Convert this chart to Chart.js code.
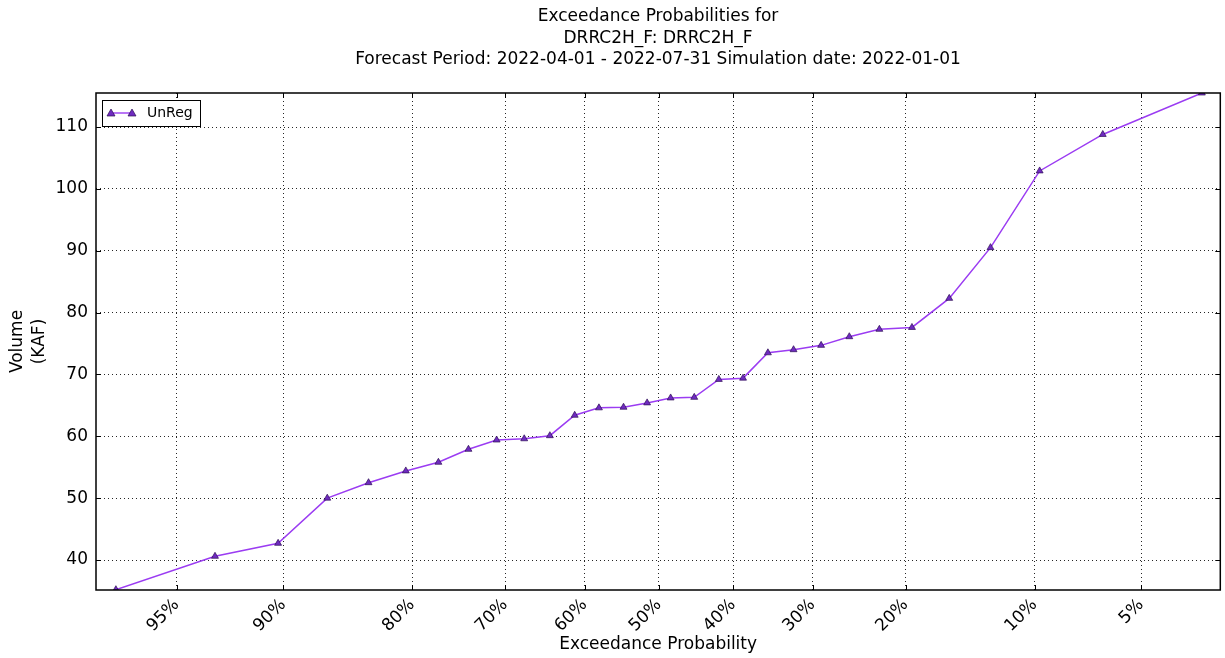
<!DOCTYPE html>
<html>
<head>
<meta charset="utf-8">
<script src="https://cdn.jsdelivr.net/npm/chart.js@4.4.1/dist/chart.umd.min.js"></script>
<style>
  html, body { margin: 0; padding: 0; background: #fff; }
  #wrap { width: 1225px; height: 658px; }
</style>
</head>
<body>
<div id="wrap"><canvas id="exceed" width="1225" height="658"></canvas></div>
<script>
// Exceedance probability (%) of each sorted volume
const exceedPct = [96.8, 93.5, 90.3, 87.1, 83.9, 80.6, 77.4, 74.2, 71.0, 67.7,
                   64.5, 61.3, 58.1, 54.8, 51.6, 48.4, 45.2, 41.9, 38.7, 35.5,
                   32.3, 29.0, 25.8, 22.6, 19.4, 16.1, 12.9, 9.7, 6.5, 3.2];
// UnReg volume (KAF)
const unregKaf = [35.2, 40.6, 42.7, 50.0, 52.5, 54.4, 55.8, 57.9, 59.4, 59.6,
                  60.1, 63.4, 64.6, 64.7, 65.4, 66.2, 66.3, 69.2, 69.4, 73.5,
                  74.0, 74.7, 76.1, 77.3, 77.6, 82.3, 90.5, 102.9, 108.8, 115.5];
const xTickPct = [95, 90, 80, 70, 60, 50, 40, 30, 20, 10, 5];
const yTicks = [40, 50, 60, 70, 80, 90, 100, 110];

const titleLines = [
    "Exceedance Probabilities for",
    "DRRC2H_F: DRRC2H_F",
    "Forecast Period: 2022-04-01 - 2022-07-31 Simulation date: 2022-01-01",
];

const FONT = "'DejaVu Sans', sans-serif";
const LINE_COLOR = "#9b3cf2";
const MARKER_FILL = "#6f2bc0";
const MARKER_EDGE = "#2e0f55";

// inverse normal cdf (Acklam) -> normal probability axis
function probit(p) {
    const a = [-3.969683028665376e+01, 2.209460984245205e+02, -2.759285104469687e+02,
               1.383577518672690e+02, -3.066479806614716e+01, 2.506628277459239e+00];
    const b = [-5.447609879822406e+01, 1.615858368580409e+02, -1.556989798598866e+02,
               6.680131188771972e+01, -1.328068155288572e+01];
    const c = [-7.784894002430293e-03, -3.223964580411365e-01, -2.400758277161838e+00,
               -2.549732539343734e+00, 4.374664141464968e+00, 2.938163982698783e+00];
    const d = [7.784695709041462e-03, 3.224671290700398e-01, 2.445134137142996e+00,
               3.754408661907416e+00];
    const pl = 0.02425;
    let q, r;
    if (p < pl) {
        q = Math.sqrt(-2 * Math.log(p));
        return (((((c[0]*q+c[1])*q+c[2])*q+c[3])*q+c[4])*q+c[5]) /
               ((((d[0]*q+d[1])*q+d[2])*q+d[3])*q+1);
    }
    if (p > 1 - pl) {
        q = Math.sqrt(-2 * Math.log(1 - p));
        return -(((((c[0]*q+c[1])*q+c[2])*q+c[3])*q+c[4])*q+c[5]) /
                ((((d[0]*q+d[1])*q+d[2])*q+d[3])*q+1);
    }
    q = p - 0.5;
    r = q * q;
    return (((((a[0]*r+a[1])*r+a[2])*r+a[3])*r+a[4])*r+a[5])*q /
           (((((b[0]*r+b[1])*r+b[2])*r+b[3])*r+b[4])*r+1);
}
// high exceedance on the left
const toX = (pct) => probit(1 - pct / 100);

const points = exceedPct.map((p, i) => ({ x: toX(p), y: unregKaf[i] }));
const xTickLabel = {};
xTickPct.forEach((p) => { xTickLabel[toX(p).toFixed(6)] = p + "%"; });

// frame, inward ticks, title, axis titles, legend
const decor = {
    id: "decor",
    afterDraw(chart) {
        const { ctx, chartArea: a, scales } = chart;
        ctx.save();
        ctx.strokeStyle = "#000";
        ctx.lineWidth = 1;
        ctx.beginPath();
        scales.x.ticks.forEach((t) => {
            const px = Math.round(scales.x.getPixelForValue(t.value)) + 0.5;
            ctx.moveTo(px, a.bottom); ctx.lineTo(px, a.bottom - 5);
            ctx.moveTo(px, a.top); ctx.lineTo(px, a.top + 5);
        });
        scales.y.ticks.forEach((t) => {
            const py = Math.round(scales.y.getPixelForValue(t.value)) + 0.5;
            ctx.moveTo(a.left, py); ctx.lineTo(a.left + 5, py);
            ctx.moveTo(a.right, py); ctx.lineTo(a.right - 5, py);
        });
        ctx.stroke();
        ctx.lineWidth = 1.5;
        ctx.strokeRect(a.left, a.top, a.right - a.left, a.bottom - a.top);

        ctx.fillStyle = "#000";
        ctx.textAlign = "center";
        ctx.textBaseline = "middle";
        ctx.font = "17px " + FONT;
        titleLines.forEach((s, i) => ctx.fillText(s, 658, 17 + i * 21.5));
        ctx.fillText("Exceedance Probability", (a.left + a.right) / 2, 645);

        ctx.save();
        ctx.translate(18, (a.top + a.bottom) / 2);
        ctx.rotate(-Math.PI / 2);
        ctx.fillText("Volume", 0, 0);
        ctx.fillText("(KAF)", 0, 22);
        ctx.restore();

        // legend
        const lx = 102, ly = 100, lw = 98, lh = 26;
        ctx.fillStyle = "#fff";
        ctx.fillRect(lx, ly, lw, lh);
        ctx.lineWidth = 1;
        ctx.strokeStyle = "#000";
        ctx.strokeRect(lx + 0.5, ly + 0.5, lw, lh);
        const my = ly + 13;
        ctx.strokeStyle = LINE_COLOR;
        ctx.lineWidth = 1.4;
        ctx.beginPath();
        ctx.moveTo(111, my); ctx.lineTo(132, my);
        ctx.stroke();
        [111, 132].forEach((mx) => {
            ctx.beginPath();
            ctx.moveTo(mx, my - 4);
            ctx.lineTo(mx + 4, my + 3);
            ctx.lineTo(mx - 4, my + 3);
            ctx.closePath();
            ctx.fillStyle = MARKER_FILL;
            ctx.fill();
            ctx.strokeStyle = MARKER_EDGE;
            ctx.lineWidth = 0.7;
            ctx.stroke();
        });
        ctx.fillStyle = "#000";
        ctx.textAlign = "left";
        ctx.font = "14px " + FONT;
        ctx.fillText("UnReg", 147, my);
        ctx.restore();
    },
};

const gridDots = {
    display: true,
    drawTicks: false,
    color: "rgba(0,0,0,0.85)",
    lineWidth: 1,
};

new Chart(document.getElementById("exceed"), {
    type: "line",
    data: {
        datasets: [{
            label: "UnReg",
            data: points,
            borderColor: LINE_COLOR,
            borderWidth: 1.5,
            pointStyle: "triangle",
            pointRadius: 4,
            pointBackgroundColor: MARKER_FILL,
            pointBorderColor: MARKER_EDGE,
            pointBorderWidth: 0.7,
            tension: 0,
            clip: 0,
        }],
    },
    options: {
        responsive: false,
        animation: false,
        events: [],
        layout: { padding: { top: 93, right: 0, left: 0, bottom: 0 } },
        plugins: {
            legend: { display: false },
            title: { display: false },
            tooltip: { enabled: false },
        },
        scales: {
            x: {
                type: "linear",
                min: -1.92,
                max: 1.915,
                border: { display: false, dash: [1, 3] },
                grid: gridDots,
                afterBuildTicks: (s) => { s.ticks = xTickPct.map((p) => ({ value: toX(p) })); },
                afterFit: (s) => { s.height = 68; s.paddingRight = 3; },
                ticks: {
                    color: "#000",
                    font: { family: FONT, size: 17 },
                    maxRotation: 45,
                    minRotation: 45,
                    padding: 5,
                    autoSkip: false,
                    callback: (v) => xTickLabel[Number(v).toFixed(6)] || "",
                },
            },
            y: {
                type: "linear",
                min: 35.15,
                max: 115.5,
                border: { display: false, dash: [1, 3] },
                grid: gridDots,
                afterBuildTicks: (s) => { s.ticks = yTicks.map((v) => ({ value: v })); },
                afterFit: (s) => { s.width = 96; },
                ticks: {
                    color: "#000",
                    font: { family: FONT, size: 17 },
                    padding: 8,
                },
            },
        },
    },
    plugins: [decor],
});
</script>
</body>
</html>
